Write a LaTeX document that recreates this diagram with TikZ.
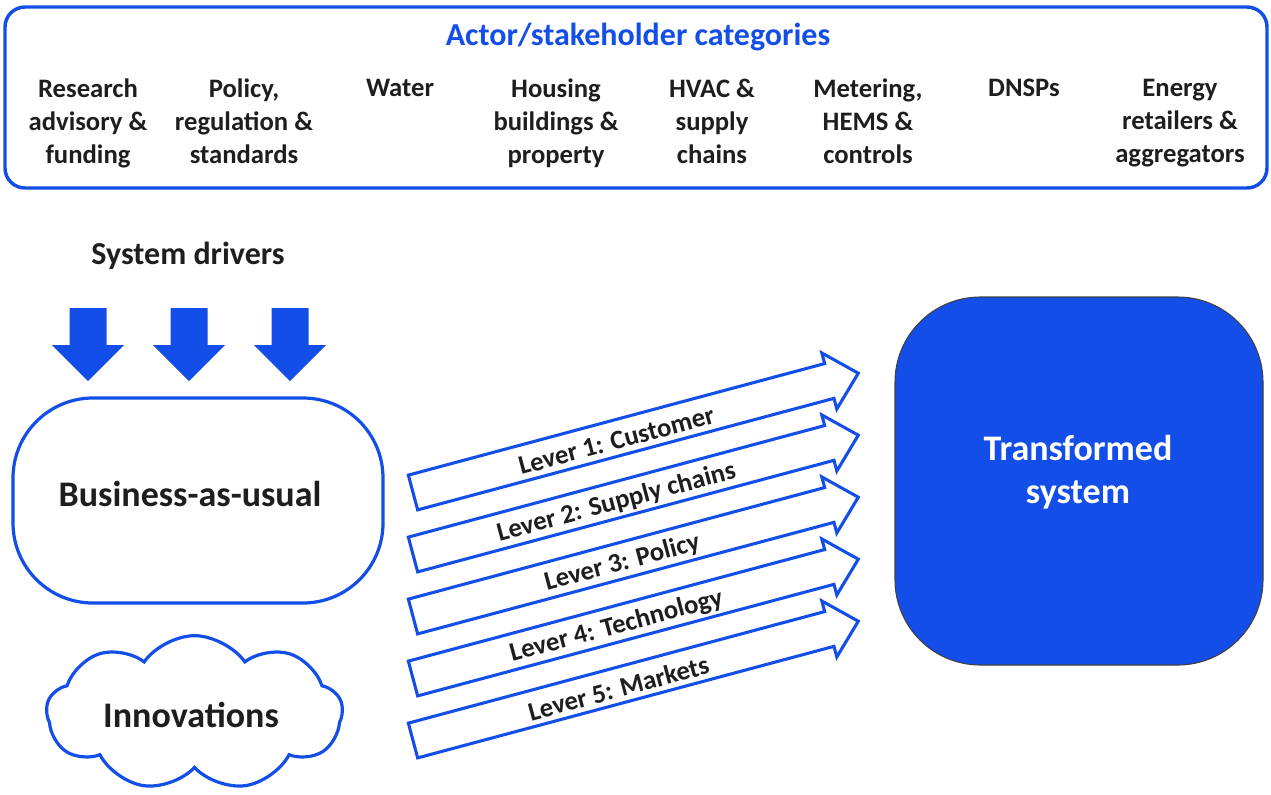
\documentclass[tikz,border=0pt]{standalone}
\usepackage{fontspec}
\setmainfont{Carlito}
\usetikzlibrary{shapes.symbols}
\definecolor{bl}{RGB}{20,78,232}
\definecolor{txt}{RGB}{30,30,30}
\begin{document}
\begin{tikzpicture}[x=0.75pt,y=-0.75pt,
  cat/.style={anchor=north, align=center, inner sep=0pt, text=txt, font=\bfseries\fontsize{20}{24.75}\selectfont},
  big/.style={inner sep=0pt, text=txt, align=center, font=\bfseries\fontsize{27}{32}\selectfont},
  lever/.style={draw=bl, line width=2.3pt, fill=white, line join=miter},
  levertxt/.style={rotate=15, inner sep=0pt, text=txt, font=\bfseries\fontsize{20}{24}\selectfont},
  drv/.style={fill=bl, draw=none}]
\useasboundingbox (0,0) rectangle (1271,794);
% actor box
\node[draw=bl, line width=2.6pt, rounded corners=15pt, minimum width=946.5pt, minimum height=135.75pt, inner sep=0pt] (actors) at (636,97.5) {};
\node[inner sep=0pt, text=bl, font=\bfseries\fontsize{24}{28}\selectfont] (title) at (638,37) {Actor/stakeholder categories};
\node[cat] (c1) at (88,79) {Research\\advisory \&\\funding};
\node[cat] (c2) at (244,79) {Policy,\\regulation \&\\standards};
\node[cat] (c3) at (400,79) {Water};
\node[cat] (c4) at (556,79) {Housing\\buildings \&\\property};
\node[cat] (c5) at (712,79) {HVAC \&\\supply\\chains};
\node[cat] (c6) at (868,79) {Metering,\\HEMS \&\\controls};
\node[cat] (c7) at (1024,79) {DNSPs};
\node[cat] (c8) at (1180,79) {Energy\\retailers \&\\aggregators};
% system drivers
\node[inner sep=0pt, text=txt, font=\bfseries\fontsize{24}{28}\selectfont] (drivers) at (188,256) {System drivers};
\foreach \cx in {88,189,290}{
  \fill[bl] ({\cx-18.5},308) -- ({\cx+18.5},308) -- ({\cx+18.5},345) -- ({\cx+36},345) -- (\cx,381) -- ({\cx-36},345) -- ({\cx-18.5},345) -- cycle;
}
% business as usual
\node[draw=bl, line width=2.4pt, fill=white, rounded corners=60pt, minimum width=277.5pt, minimum height=153.75pt, inner sep=0pt] (bau) at (198,500.5) {};
\node[big] (bautxt) at (190,494) {Business-as-usual};
% innovations cloud
\node[cloud, cloud puffs=9, cloud puff arc=110, aspect=2, draw=bl, line width=2.4pt, fill=white, minimum width=222pt, minimum height=116pt, inner sep=0pt] (innov) at (194.5,713) {};
\node[big] (innovtxt) at (191,715) {Innovations};
% transformed system
\node[draw=black!75, line width=0.8pt, fill=bl, rounded corners=64pt, minimum width=276pt, minimum height=276pt, inner sep=0pt] (trans) at (1079,481) {};
\node[big, text=white] (transtxt) at (1078,472) {Transformed\\system};
% levers
\foreach \k/\t/\a in {0/Lever 1: Customer/210, 1/Lever 2: Supply chains/210, 2/Lever 3: Policy/216, 3/Lever 4: Technology/210, 4/Lever 5: Markets/212}{
  \begin{scope}[shift={(413,{492.5+62*\k})}, rotate=15]
    \draw[lever] (0,-18) -- (431,-18) -- (431,-29) -- (461,0) -- (431,29) -- (431,18) -- (0,18) -- cycle;
    \node[levertxt] (lv\k) at (\a,2.5) {\t};
  \end{scope}
}
\end{tikzpicture}
\end{document}
